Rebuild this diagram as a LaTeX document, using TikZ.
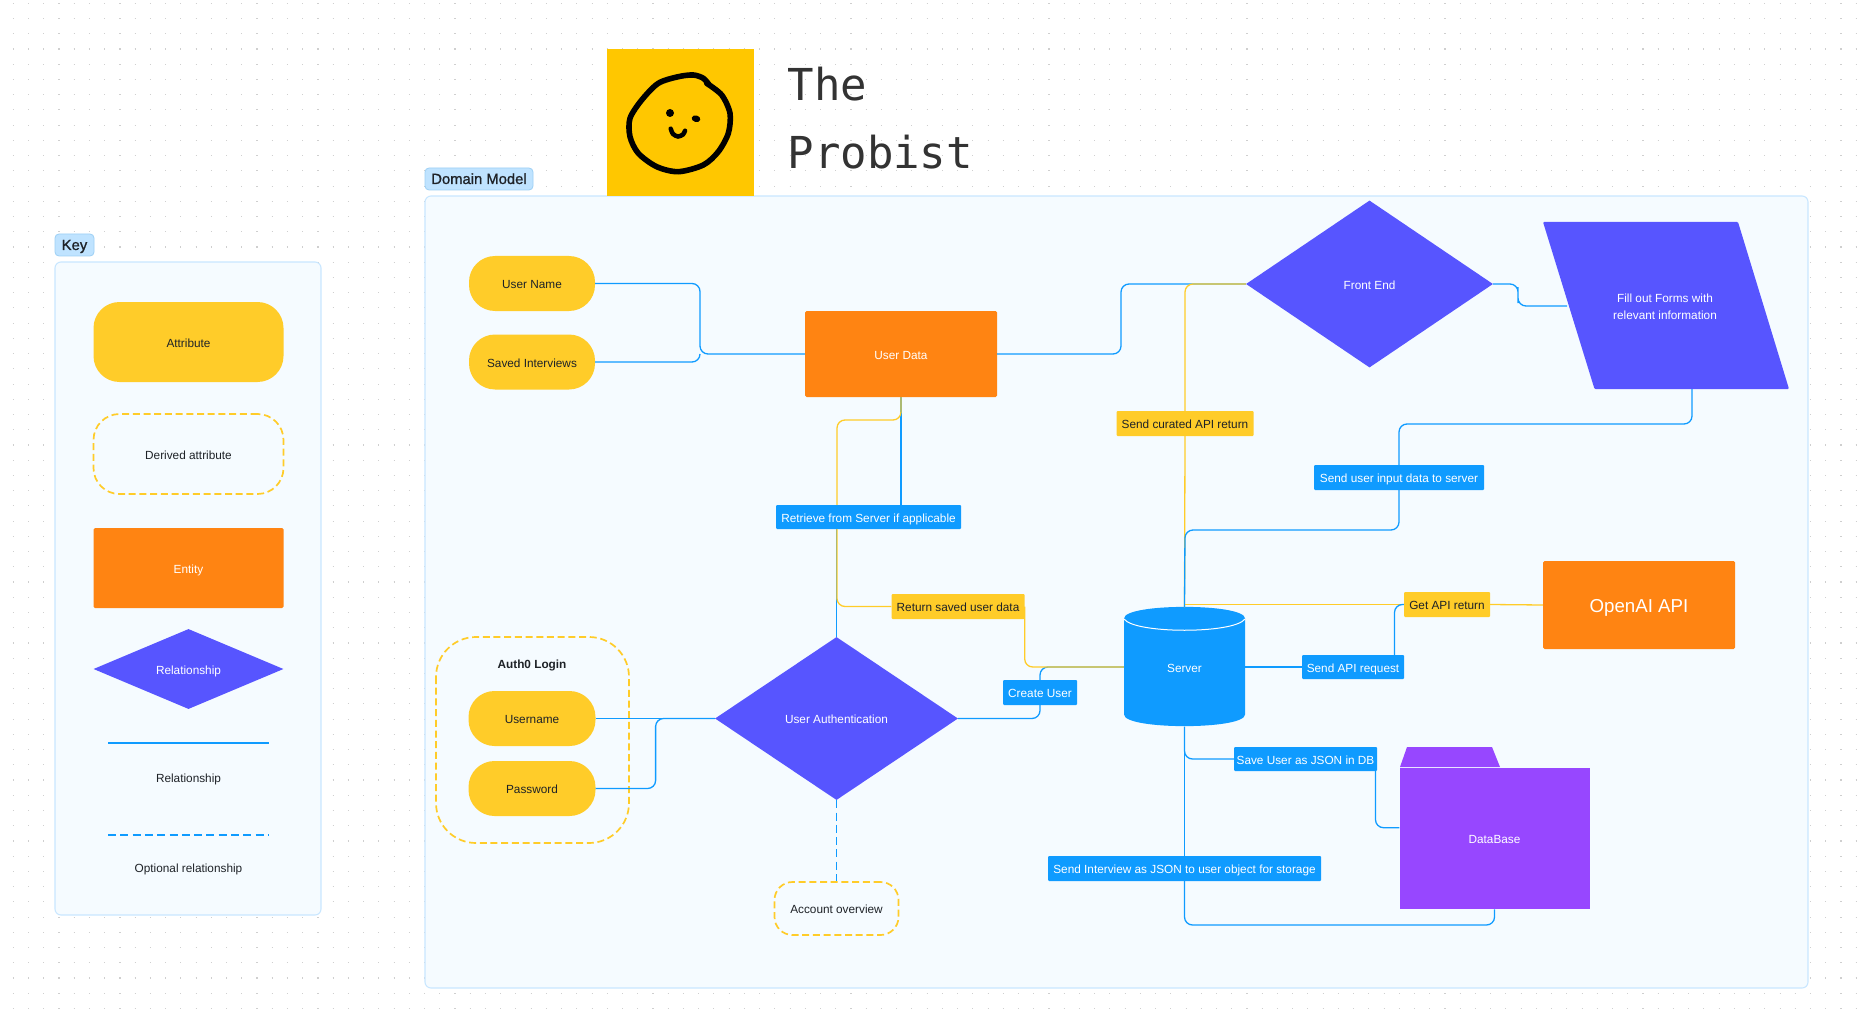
\documentclass[tikz,border=0pt]{standalone}
\usepackage{fontspec}
\usepackage{xcolor}
\usetikzlibrary{shapes.geometric,calc}
\setmainfont{Liberation Sans}
\newfontfamily\titlefont{DejaVu Sans Mono}
\newfontfamily\tagfont[FakeBold=1]{Liberation Sans}
\definecolor{attryellow}{HTML}{FFCC29}
\definecolor{logoyellow}{HTML}{FFC700}
\definecolor{entityorange}{HTML}{FF8412}
\definecolor{relviolet}{HTML}{5755FF}
\definecolor{linkblue}{HTML}{0F9BFF}
\definecolor{folderpurple}{HTML}{9747FF}
\definecolor{panelfill}{HTML}{F5FBFF}
\definecolor{panelline}{HTML}{C9E7FF}
\definecolor{tagfill}{HTML}{BFE3FF}
\definecolor{tagline}{HTML}{9DD0F5}
\definecolor{inkdark}{HTML}{1E2227}
\definecolor{griddot}{HTML}{CFCFCF}
\newcommand{\bodytxt}{\fontsize{11.8}{16.6}\selectfont}
\tikzset{
	sized/.style 2 args={minimum width=#1pt,minimum height=#2pt,inner sep=0pt},
	oneline/.style={text height=10pt,text depth=0pt},
	shapetext/.style={font=\bodytxt,align=center,text=white},
	panel/.style={draw=panelline,fill=panelfill,line width=1.1pt,rounded corners=6pt},
	paneltag/.style={draw=tagline,fill=tagfill,line width=0.8pt,rounded corners=4pt,font=\tagfont\fontsize{14.8}{17}\selectfont,text=inkdark,text height=10pt,text depth=0pt},
	attribute/.style={fill=attryellow,rounded corners=26pt,font=\bodytxt,text=inkdark,oneline},
	derived/.style={draw=attryellow,line width=1.7pt,dash pattern=on 7pt off 3.7pt,rounded corners=26pt,font=\bodytxt,text=inkdark,oneline},
	entity/.style={fill=entityorange,rounded corners=1.5pt,shapetext,oneline},
	relation/.style={shape=diamond,fill=relviolet,shapetext,oneline},
	bluetag/.style={fill=linkblue,rounded corners=1pt,font=\bodytxt,text=white,oneline},
	yellowtag/.style={fill=attryellow,rounded corners=1pt,font=\bodytxt,text=inkdark,oneline},
	plaintext/.style={font=\bodytxt,text=inkdark,oneline},
	relline/.style={draw=linkblue,line width=1.3pt,rounded corners=8pt},
	optline/.style={draw=linkblue,line width=1.3pt,dash pattern=on 8pt off 4.3pt},
	retline/.style={draw=attryellow,line width=1.3pt,rounded corners=8pt}
}

\begin{document}
\begin{tikzpicture}[x=1pt,y=-1pt]
	\useasboundingbox (0,0) rectangle (1857,1032);
	\fill [white] (0,0) rectangle (1857,1032);
	
	\foreach \row in {0,...,66}
		\draw [griddot, line width=1.1pt, dash pattern=on 1.1pt off 14.13pt, dash phase=-12.8pt] (0,3.3+15.23*\row) -- (1857,3.3+15.23*\row);
	
	\draw [panel] (55,262) rectangle (321,915);
	\draw [panel] (425,196) rectangle (1808,988);
	\node (keytag) [paneltag, sized={39}{22}] at (74.5,245) {Key};
	\node (domaintag) [paneltag, sized={108}{22}] at (479,179) {Domain Model};
	
	\fill [logoyellow] (607,49) rectangle (754,196);
	\draw [line width=5.6pt, line cap=round] plot [smooth] coordinates {(706.7,83.3) (721.7,95) (730,113.3) (728.3,133.3) (718.3,151.7) (703.3,165) (678.3,171.7) (656.7,166.7) (638.3,153.3) (630,136.7) (630,118.3) (641.7,100) (658.3,83.3) (678.3,76.7) (693.3,75) (703.3,78.3) (709.3,85)};
	\fill (670,113) circle (4pt);
	\fill [rotate around={-15:(696,118.7)}] (696,118.7) ellipse (4.4pt and 3.3pt);
	\draw [line width=4.5pt, line cap=round] plot [smooth] coordinates {(670.7,128.7) (673,134) (678,136.5) (683,134.5) (685,130.7)};
	\node (titleone) [anchor=base west, font=\titlefont\fontsize{44}{44}\selectfont, text=black!80] at (784,101) {The};
	\node (titletwo) [anchor=base west, font=\titlefont\fontsize{44}{44}\selectfont, text=black!80] at (784,169) {Probist};
	
	\node (keyattr) [attribute, sized={190}{80}] at (188.5,342) {Attribute};
	\node (keyderived) [derived, sized={190}{80}] at (188.5,454) {Derived attribute};
	\node (keyentity) [entity, sized={190}{80}] at (188.5,568) {Entity};
	\node (keyrel) [relation, sized={190}{80}, shape aspect=2.375] at (188.5,669) {Relationship};
	\coordinate (keylinea) at (108,743);
	\coordinate (keylineb) at (269,743);
	\draw [relline] (keylinea) -- (keylineb);
	\node (keyreltext) [plaintext] at (188.5,777) {Relationship};
	\coordinate (keyopta) at (108,835);
	\coordinate (keyoptb) at (269,835);
	\draw [optline] (keyopta) -- (keyoptb);
	\node (keyopttext) [plaintext] at (188.5,867) {Optional relationship};
	
	\node (username) [attribute, sized={126}{55}] at (532,283.5) {User Name};
	\node (saved) [attribute, sized={126}{55}] at (532,362) {Saved Interviews};
	\node (userdata) [entity, sized={192}{86}] at (901,354) {User Data};
	\node (frontend) [relation, sized={247}{167}, shape aspect=1.48] at (1369.5,284) {Front End};
	\fill [relviolet, rounded corners=1pt] (1543,222) -- (1738,222) -- (1789,389) -- (1594.5,389) -- cycle;
	\node (forms) [shapetext] at (1665,306.5) {Fill out Forms with\\relevant information};
	\coordinate (formsleft) at (1567,306);
	\coordinate (formsbottom) at (1692,389);
	\coordinate (formsbend) at (1518,295);
	\node (openai) [entity, sized={192}{88}, font=\fontsize{18.7}{22}\selectfont, text height=14.5pt] at (1639,605) {OpenAI API};
	\fill [linkblue] (1124,618.5) .. controls (1124,603) and (1245,603) .. (1245,618.5) -- (1245,714.5) .. controls (1245,730) and (1124,730) .. (1124,714.5) -- cycle;
	\node (server) [shapetext, oneline, sized={121}{119}] at (1184.5,667) {Server};
	\draw [white, line width=1pt] (1124,619) .. controls (1135,634) and (1234,634) .. (1245,619);
	\fill [folderpurple] (1407,747) -- (1492,747) -- (1500,767) -- (1400,767) -- cycle;
	\node (database) [fill=folderpurple, shapetext, oneline, sized={190}{141.5}] at (1494.5,838.5) {DataBase};
	\node (auth) [relation, sized={243}{163}, shape aspect=1.49] at (836.5,718.5) {User Authentication};
	\node (account) [derived, sized={124}{53}, rounded corners=18pt] at (836.5,908.5) {Account overview};
	\draw [derived, rounded corners=40pt] (436,637) rectangle (629,843);
	\node (authtitle) [font=\bodytxt\bfseries, text=inkdark, oneline] at (532,663.5) {Auth0 Login};
	\node (loginname) [attribute, sized={127}{55}] at (532,718.5) {Username};
	\node (password) [attribute, sized={127}{55}] at (532,788.5) {Password};
	
	\node (retrieve) [bluetag, sized={185}{24}] at (868.5,517) {Retrieve from Server if applicable};
	\node (curated) [yellowtag, sized={137}{25}] at (1185,423.5) {Send curated API return};
	\node (sendinput) [bluetag, sized={170}{25}] at (1399,477.5) {Send user input data to server};
	\node (getapi) [yellowtag, sized={86}{25}] at (1447,604.5) {Get API return};
	\node (sendapi) [bluetag, sized={102}{24}] at (1353,667) {Send API request};
	\node (returnsaved) [yellowtag, sized={133}{25}] at (958,606.5) {Return saved user data};
	\node (createuser) [bluetag, sized={74}{25}] at (1040,692.5) {Create User};
	\node (saveuser) [bluetag, sized={143}{24}] at (1305.5,759) {Save User as JSON in DB};
	\node (sendinterview) [bluetag, sized={273}{25}] at (1184.5,868.5) {Send Interview as JSON to user object for storage};
	
	\coordinate (datajoin) at (700,354);
	\draw [relline] (username.east) -| (datajoin) -- (userdata.west);
	\draw [relline] (saved.east) -| (datajoin);
	\coordinate (frontrise) at (1121,284);
	\draw [relline] (userdata.east) -| (frontrise) -- (frontend.west);
	\draw [relline] (frontend.east) -| (formsbend) |- (formsleft);
	\draw [retline] (frontend.west) -| (curated.north);
	\draw [retline] (curated.south) -- (server.north);
	\coordinate (inputdrop) at (1399,424);
	\draw [relline] (formsbottom) |- (inputdrop) -- (sendinput.north);
	\draw [relline] (sendinput.south) |- (1185,530) -- (server.north);
	\draw [retline] (openai.west) -- (getapi.east);
	\draw [retline] (getapi.west) -- (1185,604.5);
	\coordinate (apibend) at (1394.5,604.5);
	\draw [relline] (sendapi.west) -- (server.east);
	\draw [relline] (apibend |- sendapi.north) -- (apibend) -- (getapi.west);
	
	\coordinate (authjoin) at (655.6,718.5);
	\draw [relline] (loginname.east) -- (auth.west);
	\draw [relline] (password.east) -| (authjoin) -- (auth.west);
	\draw [optline] (auth.south) -- (account.north);
	\draw [relline] (auth.east) -| (createuser.south);
	\draw [relline] (createuser.north) |- (server.west);
	
	\coordinate (retbend) at (837,420);
	\draw [relline] (userdata.south) -- (retrieve.north -| userdata.south);
	\draw [relline] (retrieve.south -| auth.north) -- (auth.north);
	\draw [retline] (returnsaved.west) -| (retrieve.south -| retbend);
	\draw [retline] (retrieve.north -| retbend) -- (retbend) -| (userdata.south);
	\draw [retline] (server.west) -| (returnsaved.east);
	
	\coordinate (dbbend) at (1375.5,827.7);
	\coordinate (dbunder) at (1494.5,925);
	\draw [relline] (server.south) |- (saveuser.west);
	\draw [relline] (dbbend |- saveuser.south) -- (dbbend) -- (database.west |- dbbend);
	\draw [relline] (server.south) -- (sendinterview.north);
	\draw [relline] (sendinterview.south) |- (dbunder) -- (database.south);
\end{tikzpicture}
\end{document}
